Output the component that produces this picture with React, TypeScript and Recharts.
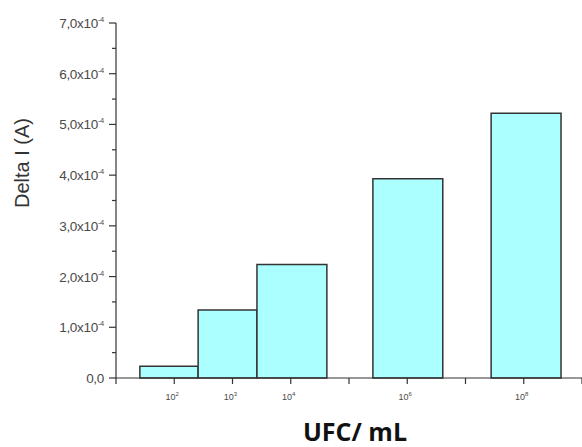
import React from 'react';
import { ComposedChart, XAxis, YAxis, ReferenceArea, Line, Label } from 'recharts';

// Data (log10 of UFC/mL for categories, bin edges in log10 units, Delta I in A)
const exponents = [2, 3, 4, 6, 8];
const binStart = [1.41, 2.41, 3.42, 5.41, 7.44];
const binEnd = [2.41, 3.42, 4.62, 6.61, 8.64];
const deltaI = [0.23e-4, 1.34e-4, 2.24e-4, 3.93e-4, 5.22e-4];

const xTicks = [1, 2, 3, 4, 5, 6, 7, 8, 9];
const yMajor = [0, 1, 2, 3, 4, 5, 6, 7];
const yMinor = [0.5, 1.5, 2.5, 3.5, 4.5, 5.5, 6.5];
const yScaleExp = -4;

const data = exponents.map((e, i) => ({ x: e, start: binStart[i], end: binEnd[i], value: deltaI[i] }));

const yTicks = [...yMajor, ...yMinor].sort((a, b) => a - b).map((v) => v * Math.pow(10, yScaleExp));

const AXIS = '#333';
const TEXT = '#4a4a4a';
const FONT = 'Liberation Sans, Arial, sans-serif';

const YTick = (props: any) => {
  const { x, y, payload } = props;
  const v = payload.value / Math.pow(10, yScaleExp);
  const r = Math.round(v * 10) / 10;
  const isMajor = Math.abs(r - Math.round(r)) < 1e-6;
  const mant = r.toFixed(1).replace('.', ',');
  return (
    <g>
      <line x1={x - (isMajor ? 7 : 4)} x2={x} y1={y} y2={y} stroke={AXIS} strokeWidth={1.2} />
      {isMajor && (
        <text x={x - 12} y={y + 5} textAnchor="end" fontFamily={FONT} fontSize={13.5} letterSpacing={-0.3} fill={TEXT}>
          {r === 0 ? (
            '0,0'
          ) : (
            <>
              {mant}x10
              <tspan dy={-6} fontSize={7.5}>{yScaleExp}</tspan>
            </>
          )}
        </text>
      )}
    </g>
  );
};

const XTick = (props: any) => {
  const { x, y, payload } = props;
  const e = payload.value;
  const labeled = exponents.includes(e);
  return (
    <g>
      <line x1={x} x2={x} y1={y} y2={y + 6} stroke={AXIS} strokeWidth={1.2} />
      {labeled && (
        <text x={x - 2} y={y + 22} textAnchor="middle" fontFamily={FONT} fontSize={9} fill={TEXT}>
          10
          <tspan dy={-4} fontSize={6}>{e}</tspan>
        </text>
      )}
    </g>
  );
};

const YLabel = () => (
  <text
    x={0}
    y={0}
    transform="translate(29, 163) rotate(-90)"
    textAnchor="middle"
    fontFamily={FONT}
    fontSize={20}
    fill="#333"
  >
    Delta I (A)
  </text>
);

const XLabel = () => (
  <text x={355} y={441} textAnchor="middle" fontFamily="'Open Sans', sans-serif" fontWeight={700} fontSize={25} fill="#111">
    UFC/ mL
  </text>
);

export default function App() {
  return (
    <div style={{ position: 'absolute', left: 0, top: 0, width: 582, height: 447, background: '#fff' }}>
      <ComposedChart width={582} height={447} data={data} margin={{ top: 23, right: 0, bottom: 0, left: 0 }}>
        <XAxis
          dataKey="x"
          type="number"
          domain={[1, 9]}
          ticks={xTicks}
          allowDataOverflow
          height={69}
          axisLine={{ stroke: AXIS, strokeWidth: 1.2 }}
          tickLine={false}
          tickSize={0}
          tickMargin={0}
          tick={<XTick />}
          interval={0}
        >
          <Label content={<XLabel />} />
        </XAxis>
        <YAxis
          type="number"
          domain={[0, 7e-4]}
          ticks={yTicks}
          allowDataOverflow
          width={116}
          axisLine={{ stroke: AXIS, strokeWidth: 1.2 }}
          tickLine={false}
          tickSize={0}
          tickMargin={0}
          tick={<YTick />}
          interval={0}
        >
          <Label content={<YLabel />} />
        </YAxis>
        {data.map((d, i) => (
          <ReferenceArea
            key={i}
            x1={d.start}
            x2={d.end}
            y1={0}
            y2={d.value}
            fill="#abffff"
            fillOpacity={1}
            stroke="#333"
            strokeWidth={1.5}
          />
        ))}
        <Line dataKey="value" stroke="none" dot={false} activeDot={false} isAnimationActive={false} legendType="none" />
      </ComposedChart>
    </div>
  );
}
